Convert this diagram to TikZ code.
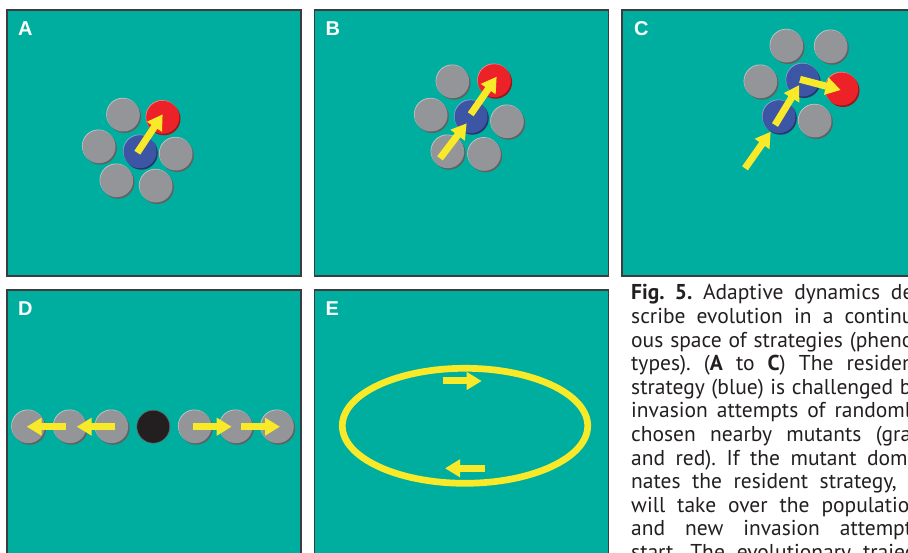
\documentclass[tikz,border=0pt]{standalone}
\usepackage{fontspec}
\setmainfont{PT Sans}
\newfontfamily\labelfont{Liberation Sans}
\usetikzlibrary{arrows.meta}
\definecolor{tealbg}{RGB}{0,174,160}
\definecolor{frame}{RGB}{60,60,62}
\definecolor{ggray}{RGB}{147,149,152}
\definecolor{dblue}{RGB}{60,85,165}
\definecolor{dred}{RGB}{237,34,40}
\definecolor{dblack}{RGB}{35,31,32}
\definecolor{yel}{RGB}{248,234,40}
\definecolor{captext}{RGB}{35,31,32}
\tikzset{
  panel/.style={fill=tealbg, draw=frame, line width=1.5pt},
  plabel/.style={anchor=base west, inner sep=0pt, text=white, font=\labelfont\bfseries\fontsize{20}{24}\selectfont},
  disc/.style={circle, minimum size=33pt, inner sep=0pt,
    preaction={fill=#1!65!black, transform canvas={shift={(1.3pt,-1.5pt)}}},
    preaction={fill=#1!55!white, transform canvas={shift={(-0.6pt,0.7pt)}}}},
  gdisc/.style={disc=ggray, fill=ggray},
  bdisc/.style={disc=dblue, fill=dblue},
  rdisc/.style={disc=dred, fill=dred},
  kdisc/.style={circle, minimum size=33pt, inner sep=0pt, fill=dblack, draw=gray!80!black, line width=0.6pt},
  yarr/.style={draw=yel, line width=7pt, line cap=butt, -{Triangle[width=17pt,length=15pt]}},
}
\begin{document}
\begin{tikzpicture}[x=1pt,y=-1pt]
\useasboundingbox (0,0) rectangle (908,553);
\clip (0,0) rectangle (908,553);
\fill[white] (0,0) rectangle (908,553);
% panels
\draw[panel] (7,10) rectangle (301,276);
\draw[panel] (314.5,10) rectangle (608.5,276);
\draw[panel] (622,10) rectangle (915,276);
\draw[panel] (7,290) rectangle (301,560);
\draw[panel] (314.5,290) rectangle (608.5,560);
\node[plabel] (la) at (18,36) {A};
\node[plabel] (lb) at (325.5,36) {B};
\node[plabel] (lc) at (634,36) {C};
\node[plabel] (ld) at (18,316) {D};
\node[plabel] (le) at (325.5,316) {E};
% panel A
\node[gdisc] (a1) at (123.3,115) {};
\node[rdisc] (a2) at (162.7,117.3) {};
\node[gdisc] (a3) at (99,146.7) {};
\node[bdisc] (a4) at (140,151.7) {};
\node[gdisc] (a5) at (176,154) {};
\node[gdisc] (a6) at (116.7,180.7) {};
\node[gdisc] (a7) at (156,186) {};
\coordinate (aS) at (137.3,152.7);
\coordinate (aT) at (162.7,114.3);
\draw[yarr] (aS) -- (aT);
% panel B
\node[gdisc] (b1) at (452.7,81.7) {};
\node[rdisc] (b2) at (494.3,80.7) {};
\node[gdisc] (b3) at (431,115) {};
\node[bdisc] (b4) at (471,116.7) {};
\node[gdisc] (b5) at (507.3,121.7) {};
\node[gdisc] (b6) at (447.7,151.7) {};
\node[gdisc] (b7) at (484.3,154.3) {};
\coordinate (bS1) at (440,158.3);
\coordinate (bT1) at (466.7,123.3);
\coordinate (bS2) at (470.7,114.3);
\coordinate (bT2) at (496.7,76.7);
\draw[yarr] (bS1) -- (bT1);
\draw[yarr] (bS2) -- (bT2);
% panel C
\node[gdisc] (c1) at (786.7,46) {};
\node[gdisc] (c2) at (831,46.7) {};
\node[gdisc] (c3) at (760.7,81.7) {};
\node[bdisc] (c4) at (802.7,80) {};
\node[rdisc] (c5) at (841.7,89) {};
\node[bdisc] (c6) at (779,116.7) {};
\node[gdisc] (c7) at (815,121) {};
\coordinate (cS1) at (745,168.3);
\coordinate (cT1) at (770.7,131.7);
\coordinate (cS2) at (775,125);
\coordinate (cT2) at (799.3,85);
\coordinate (cS3) at (800,79.3);
\coordinate (cT3) at (840.7,90);
\draw[yarr] (cS1) -- (cT1);
\draw[yarr] (cS2) -- (cT2);
\draw[yarr] (cS3) -- (cT3);
% panel D
\node[gdisc] (d1) at (28.3,426.7) {};
\node[gdisc] (d2) at (70,426.7) {};
\node[gdisc] (d3) at (111.7,426.7) {};
\node[kdisc] (d4) at (153.3,426.7) {};
\node[gdisc] (d5) at (195,426.7) {};
\node[gdisc] (d6) at (236,426.7) {};
\node[gdisc] (d7) at (277.3,426.7) {};
\coordinate (dS1) at (65.7,426.7);
\coordinate (dT1) at (26.7,426.7);
\coordinate (dS2) at (115,426.7);
\coordinate (dT2) at (76.7,426.7);
\coordinate (dS3) at (193.3,426.7);
\coordinate (dT3) at (231.7,426.7);
\coordinate (dS4) at (240.7,426.7);
\coordinate (dT4) at (280,426.7);
\draw[yarr] (dS1) -- (dT1);
\draw[yarr] (dS2) -- (dT2);
\draw[yarr] (dS3) -- (dT3);
\draw[yarr] (dS4) -- (dT4);
% panel E
\draw[draw=yel, line width=6.7pt] (465,425.8) ellipse [x radius=122.7pt, y radius=57.5pt];
\coordinate (eS1) at (443.3,381);
\coordinate (eT1) at (481.7,381);
\coordinate (eS2) at (485,468.3);
\coordinate (eT2) at (445,468.3);
\draw[yarr] (eS1) -- (eT1);
\draw[yarr] (eS2) -- (eT2);
% caption
\node[anchor=base west, inner sep=0pt, text width=290pt, align=justify, text=captext,
  font=\fontsize{21.5}{23.6}\selectfont\frenchspacing] (cap) at (631,300)
  {\textbf{Fig. 5.} Adaptive dynamics de-\linebreak
   scribe evolution in a continu-\linebreak
   ous space of strategies (pheno-\linebreak
   types). (\textbf{A} to \textbf{C}) The resident\linebreak
   strategy (blue) is challenged by\linebreak
   invasion attempts of randomly\linebreak
   chosen nearby mutants (gray\linebreak
   and red). If the mutant domi-\linebreak
   nates the resident strategy, it\linebreak
   will take over the population\linebreak
   and new invasion attempts\linebreak
   start. The evolutionary trajec-\linebreak
   tory};
\end{tikzpicture}
\end{document}
